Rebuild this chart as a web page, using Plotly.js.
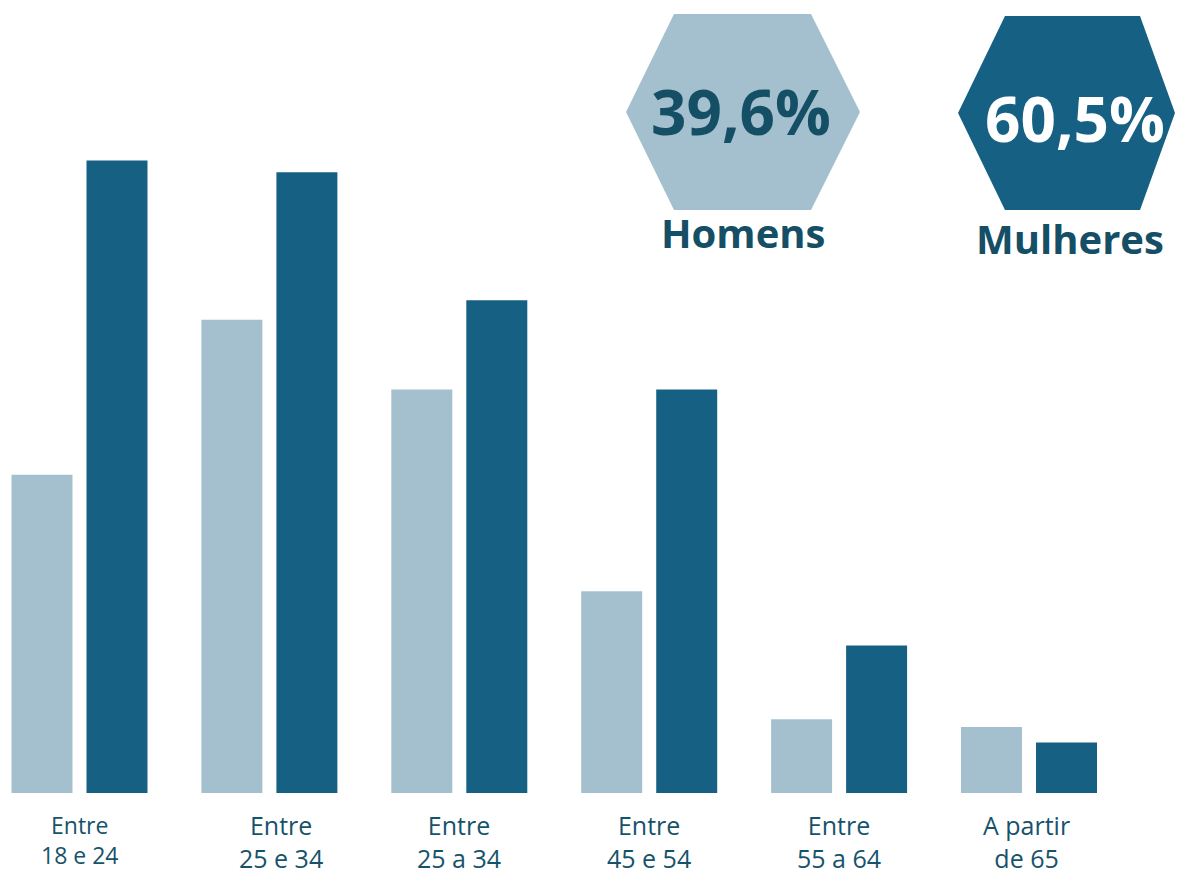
<!DOCTYPE html>
<html>
<head>
<meta charset="utf-8">
<script src="https://cdn.plot.ly/plotly-3.0.1.min.js"></script>
<style>html,body{margin:0;padding:0;background:#fff;}#chart{width:1186px;height:873px;}</style>
</head>
<body>
<div id="chart"></div>
<script>
// Data (percent of all respondents)
var categories = ["Entre<br>18 e 24", "Entre<br>25 e 34", "Entre<br>25 a 34", "Entre<br>45 e 54", "Entre<br>55 a 64", "A partir<br>de 65"];
var homens = [8.2, 12.2, 10.4, 5.2, 1.9, 1.7];
var mulheres = [16.3, 16.0, 12.7, 10.4, 3.8, 1.3];
var totalHomens = "39,6%";
var totalMulheres = "60,5%";
var seriesNames = ["Homens", "Mulheres"];

var LIGHT = "#a4c0ce", DARK = "#166083", TEXT = "#16536b";
var W = 1186, BASE = 793;
function px(x) { return x / W; }
function py(y) { return (BASE - y) / BASE; }
function hexPath(l, r, tl, tr, t, b) {
  var m = (t + b) / 2;
  return "M" + px(l) + "," + py(m) + " L" + px(tl) + "," + py(t) + " L" + px(tr) + "," + py(t) +
    " L" + px(r) + "," + py(m) + " L" + px(tr) + "," + py(b) + " L" + px(tl) + "," + py(b) + " Z";
}

var traces = [
  {type: "bar", name: seriesNames[0], x: categories, y: homens, marker: {color: LIGHT}, hoverinfo: "y"},
  {type: "bar", name: seriesNames[1], x: categories, y: mulheres, marker: {color: DARK}, hoverinfo: "y"}
];

var labelShift = [0, 12, 0, 0, 0, -3];
var labelSize = [23, 25, 25, 25, 25, 25];
var annotations = categories.map(function (c, i) {
  return {x: c, xref: "x", y: 0, yref: "paper", yanchor: "top", yshift: (i === 0 ? -14 : -13), xshift: labelShift[i],
    text: c, showarrow: false, align: "center",
    font: {family: "Open Sans, sans-serif", size: labelSize[i], color: TEXT}};
});
annotations.push(
  {x: px(741), y: py(111), xref: "paper", yref: "paper", text: "<b>" + totalHomens + "</b>", showarrow: false,
    xanchor: "center", yanchor: "middle", font: {family: "Open Sans, sans-serif", size: 62, color: "#154f66"}},
  {x: px(1075), y: py(118), xref: "paper", yref: "paper", text: "<b>" + totalMulheres + "</b>", showarrow: false,
    xanchor: "center", yanchor: "middle", font: {family: "Open Sans, sans-serif", size: 62, color: "#ffffff"}},
  {x: px(743), y: py(232), xref: "paper", yref: "paper", text: "<b>" + seriesNames[0] + "</b>", showarrow: false,
    xanchor: "center", yanchor: "middle", font: {family: "Open Sans, sans-serif", size: 40, color: "#154f66"}},
  {x: px(1070), y: py(239), xref: "paper", yref: "paper", text: "<b>" + seriesNames[1] + "</b>", showarrow: false,
    xanchor: "center", yanchor: "middle", font: {family: "Open Sans, sans-serif", size: 40, color: "#154f66"}}
);

var layout = {
  width: 1186, height: 873,
  margin: {l: 0, r: 0, t: 0, b: 80, pad: 0},
  paper_bgcolor: "#ffffff", plot_bgcolor: "#ffffff",
  barmode: "group", bargap: 0.21, bargroupgap: 0.187,
  showlegend: false,
  xaxis: {type: "category", range: [-0.4186, 5.8267], showticklabels: false, showgrid: false, zeroline: false, showline: false, ticks: "", fixedrange: true},
  yaxis: {range: [0, 20.44], showticklabels: false, showgrid: false, zeroline: false, showline: false, ticks: "", fixedrange: true},
  shapes: [
    {type: "path", xref: "paper", yref: "paper", path: hexPath(626, 860, 674, 811, 14, 210), fillcolor: LIGHT, line: {width: 0}, layer: "below"},
    {type: "path", xref: "paper", yref: "paper", path: hexPath(958, 1175, 1005, 1140, 16, 210), fillcolor: DARK, line: {width: 0}, layer: "below"}
  ],
  annotations: annotations
};

Plotly.newPlot("chart", traces, layout, {displayModeBar: false, staticPlot: true});
</script>
</body>
</html>
